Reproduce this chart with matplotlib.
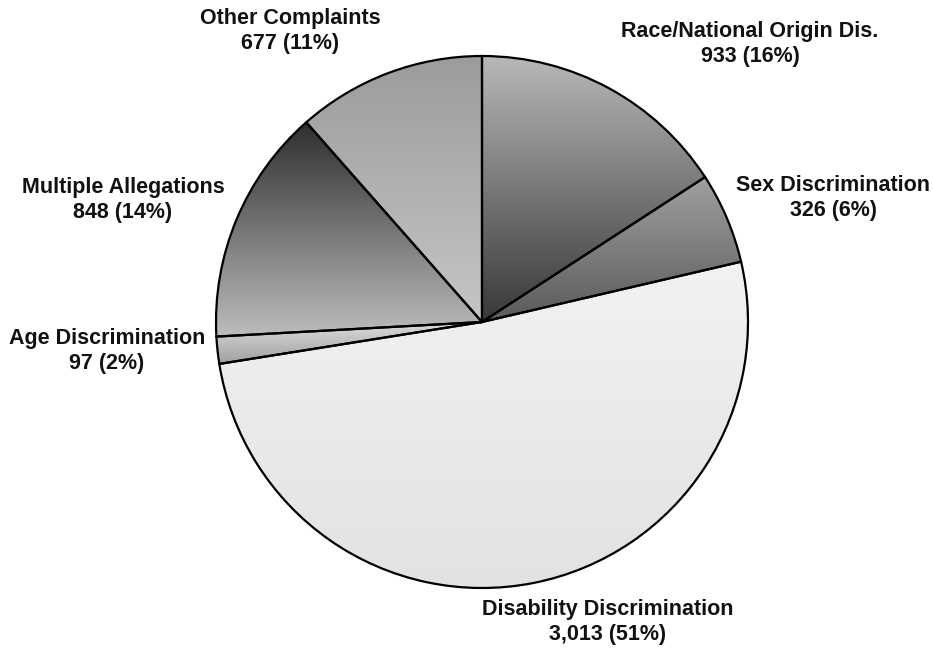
import matplotlib
matplotlib.use("Agg")
import matplotlib.pyplot as plt
import numpy as np
from matplotlib.colors import LinearSegmentedColormap

categories = ["Race/National Origin Dis.", "Sex Discrimination", "Disability Discrimination",
              "Age Discrimination", "Multiple Allegations", "Other Complaints"]
values = [933, 326, 3013, 97, 848, 677]
value_labels = ["933 (16%)", "326 (6%)", "3,013 (51%)", "97 (2%)", "848 (14%)", "677 (11%)"]

# gradient colours (top, bottom) per wedge
grad_top = ["#b8b8b8", "#a0a0a0", "#f2f2f2", "#dcdcdc", "#2e2e2e", "#9c9c9c"]
grad_bot = ["#383838", "#5a5a5a", "#e2e2e2", "#a0a0a0", "#bdbdbd", "#c6c6c6"]

# label positions in pixel coordinates (x, y from top)
label_pos = [(750, 44), (833, 198), (608, 622), (107, 351), (123, 200), (290, 31)]

W, H = 933, 650
fig = plt.figure(figsize=(W / 100, H / 100), dpi=100)
ax = fig.add_axes([0, 0, 1, 1])

cx, cy, r = 482, H - 322, 266
wedges, _ = ax.pie(values, startangle=90, counterclock=False, center=(cx, cy), radius=r,
                   wedgeprops=dict(edgecolor="black", linewidth=1.6, facecolor="none"),
                   frame=True)
ax.set_xlim(0, W)
ax.set_ylim(0, H)
ax.set_aspect("equal")
ax.axis("off")

grad = np.linspace(0, 1, 256).reshape(-1, 1)
for w, ct, cb in zip(wedges, grad_top, grad_bot):
    w.set_zorder(3)
    path = w.get_path()
    verts = w.get_transform().transform(path.vertices)
    verts = ax.transData.inverted().transform(verts)
    x0, y0 = verts.min(axis=0)
    x1, y1 = verts.max(axis=0)
    cmap = LinearSegmentedColormap.from_list("g", [ct, cb])
    im = ax.imshow(grad, cmap=cmap, extent=(x0, x1, y0, y1), origin="upper",
                   aspect="auto", interpolation="bilinear", zorder=2)
    im.set_clip_path(w)

ax.set_xlim(0, W)
ax.set_ylim(0, H)

for cat, vl, (px, py) in zip(categories, value_labels, label_pos):
    ax.text(px, H - py, f"{cat}\n{vl}", ha="center", va="center",
            fontfamily="Liberation Sans", fontweight="bold", fontsize=15.5,
            linespacing=1.25, color="#111111", zorder=5)

fig.savefig("out.png", dpi=100)
